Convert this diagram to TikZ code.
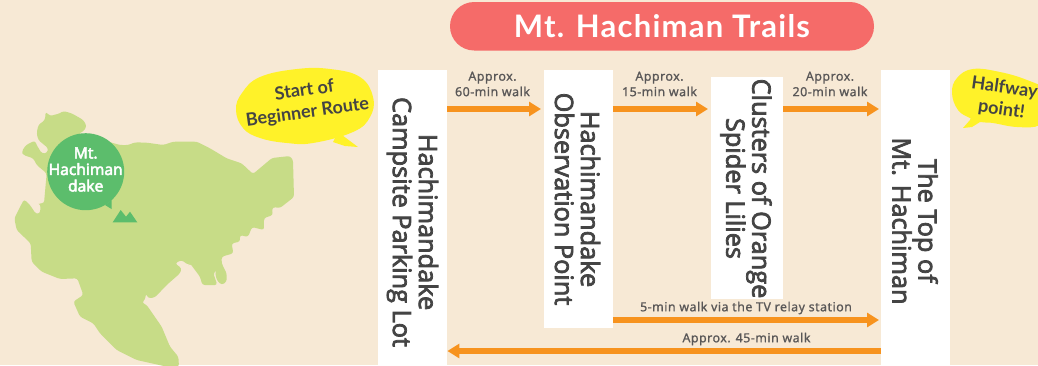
\documentclass[tikz,border=0pt]{standalone}
\usepackage{fontspec}
\setmainfont{Open Sans}
\newfontfamily\stopfont[FakeBold=3]{Open Sans}
\newfontfamily\walkfont[LetterSpace=4,FakeBold=1]{Noto Sans}
\newfontfamily\bubblefont{Lato}
\newfontfamily\titlefont[LetterSpace=4]{Lato}
\newfontfamily\mapfont[FakeBold=3]{Noto Sans}
\usetikzlibrary{arrows.meta}
\definecolor{bg}{HTML}{F7E9D5}
\definecolor{pillred}{HTML}{F56B69}
\definecolor{mapg}{HTML}{C7DC87}
\definecolor{dotgreen}{HTML}{5CBD6C}
\definecolor{bub}{HTML}{FFF229}
\definecolor{arr}{HTML}{F7931E}
\definecolor{ink}{HTML}{444444}
\definecolor{walkink}{HTML}{595757}
\tikzset{
  stopbox/.style={fill=white,draw=none,inner sep=0pt,anchor=north west},
  stoptext/.style={rotate=-90,align=center,text=ink,inner sep=0pt,font=\stopfont\fontsize{25.3}{26}\selectfont},
  walkline/.style={draw=arr,line width=5.4pt,-{Triangle[length=12pt,width=14pt]}},
  walktext/.style={align=center,text=walkink,inner sep=0pt,font=\walkfont\fontsize{12.4}{15.5}\selectfont},
  bubtext/.style={align=center,text=ink,inner sep=0pt,font=\bubblefont\bfseries\fontsize{18}{22}\selectfont},
}
\begin{document}
\begin{tikzpicture}[x=1pt,y=-1pt]
\useasboundingbox (0,0) rectangle (1038,365);
\clip (0,0) rectangle (1038,365);
\fill[bg] (0,0) rectangle (1038,365);

% map
\begin{scope}[x=0.33333pt,y=-0.33333pt,yshift=-90pt]
\fill[mapg,rounded corners=2.5pt] (137,65)--(150,78)--(180,70)--(190,63)--(215,70)--(250,90)--(260,108)--(250,125)--(235,130)--(360,165)--(385,165)--(405,157)--(440,158)--(490,165)--(520,155)--(550,155)--(590,155)--(630,175)--(680,205)--(725,220)--(759,252)--(816,204)--(870,198)--(879,210)--(882,321)--(840,354)--(819,351)--(816,360)--(819,375)--(792,384)--(792,420)--(756,411)--(744,441)--(720,435)--(720,455)--(695,460)--(700,490)--(665,500)--(665,520)--(680,550)--(680,575)--(665,585)--(650,570)--(645,545)--(655,535)--(640,550)--(652,585)--(607,585)--(600,560)--(570,520)--(565,525)--(545,510)--(525,520)--(545,535)--(540,550)--(500,585)--(465,622)--(445,625)--(438,610)--(435,630)--(425,637)--(440,645)--(485,710)--(510,770)--(535,800)--(537,830)--(500,830)--(410,810)--(350,780)--(300,730)--(280,700)--(240,680)--(220,635)--(250,615)--(232,565)--(180,567)--(125,545)--(95,515)--(92,460)--(50,420)--(43,385)--(72,328)--(90,345)--(108,372)--(120,370)--(122,345)--(115,340)--(132,340)--(140,250)--(110,225)--(100,205)--(70,195)--(65,185)--(78,165)--(105,152)--(110,165)--(125,190)--(140,190)--(145,175)--(115,150)--(110,130)--(115,105)--(135,90)--cycle;
\end{scope}
\fill[dotgreen] (112.7,222.3)--(120.7,210)--(126,216.7)--(130,211.7)--(137.3,222.3)--cycle;
\fill[dotgreen] (105,205)--(111.7,200)--(111.5,209)--cycle;
\node[circle,fill=dotgreen,minimum size=77pt,inner sep=0pt] (mapdot) at (85.7,171.7) {};
\node[text=white,align=center,inner sep=0pt,font=\mapfont\fontsize{15.5}{16.5}\selectfont] (maplabel) at (85.7,169.5) {Mt.\\Hachiman\\dake};

% title
\node[fill=pillred,rounded corners=24.2pt,minimum width=424pt,minimum height=48.5pt,inner sep=0pt] (pillbox) at (662,26.25) {};
\node[text=white,inner sep=0pt,font=\titlefont\bfseries\fontsize{31}{33}\selectfont] (title) at (662,26) {Mt. Hachiman Trails};

% stops
\node[stopbox,minimum width=69pt,minimum height=295pt] (s1) at (378,70) {};
\node[stopbox,minimum width=68.5pt,minimum height=258pt] (s2) at (544,70) {};
\node[stopbox,minimum width=72pt,minimum height=222pt] (s3) at (711,77) {};
\node[stopbox,minimum width=69pt,minimum height=295pt] (s4) at (881,70) {};
\node[stoptext] (t1) at (412.5,222) {Hachimandake\\Campsite Parking Lot};
\node[stoptext] (t2) at (577.5,199) {Hachimandake\\Observation Point};
\node[stoptext] (t3) at (746,188.5) {Clusters of Orange\\Spider Lilies};
\node[stoptext] (t4) at (915,221) {The Top of\\Mt. Hachiman};

% connectors
\coordinate (r1) at (0,109);
\coordinate (r2) at (0,320);
\coordinate (r3) at (0,351);
\draw[walkline,shorten >=3pt] (s1.east |- r1) -- (s2.west |- r1);
\draw[walkline,shorten >=3pt] (s2.east |- r1) -- (s3.west |- r1);
\draw[walkline,shorten >=2pt] (s3.east |- r1) -- (s4.west |- r1);
\draw[walkline,shorten >=2pt] (s2.east |- r2) -- (s4.west |- r2);
\draw[walkline] (s4.west |- r3) -- (s1.east |- r3);

\node[walktext] (w1) at (492.5,84) {Approx.\\60-min walk};
\node[walktext] (w2) at (659.5,84) {Approx.\\15-min walk};
\node[walktext] (w3) at (830,84) {Approx.\\20-min walk};
\node[walktext] (w4) at (746,308) {5-min walk via the TV relay station};
\node[walktext] (w5) at (746.5,339) {Approx. 45-min walk};

% bubbles
\fill[bub] plot[smooth cycle,tension=0.7] coordinates {(236,110)(242,93)(260,77)(297,69)(330,69)(360,77)(373,97)(370,117)(353,132)(313,143)(287,143)(260,138)(243,128)};
\fill[bub] (338,132)--(346,138)--(358,147)--(345,146)--(333,142)--cycle;
\node[bubtext,rotate=8] (b1) at (306,102) {Start of\\Beginner Route};
\fill[bub] plot[smooth cycle,tension=0.7] coordinates {(952,93)(957,78)(973,69)(1000,72)(1027,80)(1045,90)(1050,110)(1040,125)(1017,127)(993,123)(980,122)(970,118)(958,110)};
\fill[bub] (972,115)--(980,122)--(972,127)--(963,128)--(970,120)--cycle;
\node[bubtext,rotate=-8] (b2) at (1003,99) {Halfway\\point!};
\end{tikzpicture}
\end{document}
